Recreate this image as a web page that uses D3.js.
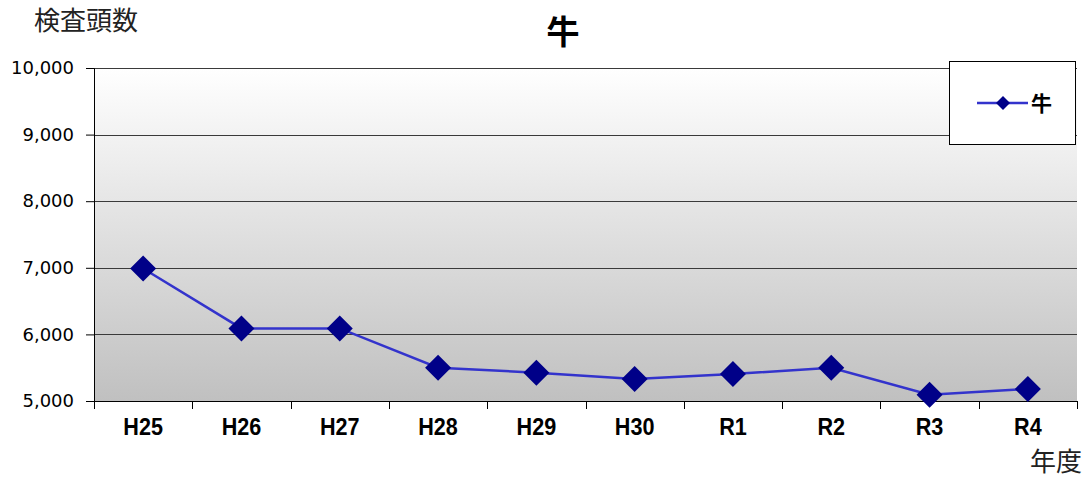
<!DOCTYPE html>
<html><head><meta charset="utf-8">
<script src="https://cdn.jsdelivr.net/npm/d3@7"></script>
<style>body{margin:0;background:#fff}svg{display:block}</style>
</head><body>
<svg id="c" width="1088" height="479"></svg>
<script>
const categories = ["H25","H26","H27","H28","H29","H30","R1","R2","R3","R4"];
const values = [6990,6090,6090,5500,5425,5330,5405,5500,5095,5180];
const yTicks = [5000,6000,7000,8000,9000,10000];
const seriesName = "牛";
const title = "牛";
const yTitle = "検査頭数";
const xTitle = "年度";

const svg = d3.select("#c");
const L=94, R=1077, T=68, B=401;
const x = d3.scaleBand().domain(categories).range([L,R]);
const y = d3.scaleLinear().domain([5000,10000]).range([B,T]);

const defs = svg.append("defs");
const g = defs.append("linearGradient").attr("id","bg").attr("x1",0).attr("y1",0).attr("x2",0).attr("y2",1);
g.append("stop").attr("offset","0%").attr("stop-color","#ffffff");
g.append("stop").attr("offset","100%").attr("stop-color","#c0c0c0");
svg.append("rect").attr("x",L).attr("y",T).attr("width",R-L).attr("height",B-T).attr("fill","url(#bg)");

// gridlines
svg.append("g").selectAll("line").data(yTicks.filter(d=>d>5000)).join("line")
  .attr("x1",L).attr("x2",R).attr("y1",d=>Math.round(y(d))+0.5).attr("y2",d=>Math.round(y(d))+0.5)
  .attr("stroke","#3a3a3a").attr("stroke-width",1);

// y axis
const ya = svg.append("g").attr("transform",`translate(${L},0)`)
  .call(d3.axisLeft(y).tickValues(yTicks).tickFormat(d3.format(",")).tickSize(8).tickPadding(12));
ya.select(".domain").attr("stroke","#000");
ya.selectAll(".tick line").attr("stroke","#000");
ya.selectAll("text").attr("font-family","DejaVu Sans, sans-serif").attr("font-size","18px").attr("fill","#000");

// x axis
const xa = svg.append("g").attr("transform",`translate(0,${B})`)
  .call(d3.axisBottom(x).tickSize(0).tickPadding(0));
xa.select(".domain").attr("stroke","#000");
xa.selectAll("text").attr("font-family","Liberation Sans, Arial, sans-serif").attr("font-weight","bold")
  .attr("font-size","24px").attr("fill","#000").attr("dy",null).attr("y",0)
  .attr("transform","translate(0,34) scale(0.9,1)");
// tick marks at category boundaries
const bounds = categories.map(c=>x(c)).concat([R]);
svg.append("g").selectAll("line").data(bounds).join("line")
  .attr("x1",d=>Math.round(d)+0.5).attr("x2",d=>Math.round(d)+0.5).attr("y1",B).attr("y2",B+8)
  .attr("stroke","#000");

// line
const cx = d=>x(d)+x.bandwidth()/2;
svg.append("path").datum(values.map((v,i)=>[cx(categories[i]),y(v)]))
  .attr("d",d3.line()).attr("fill","none").attr("stroke","#3333cc").attr("stroke-width",2.5);
const sym = d3.symbol().type(d3.symbolSquare).size(13*13*2);
svg.append("g").selectAll("path").data(values).join("path")
  .attr("d",sym).attr("fill","#000088")
  .attr("transform",(v,i)=>`translate(${cx(categories[i])},${y(v)}) rotate(45)`);

// legend
svg.append("rect").attr("x",949.5).attr("y",61.5).attr("width",126).attr("height",83)
  .attr("fill","#fff").attr("stroke","#000");
svg.append("line").attr("x1",977).attr("x2",1028).attr("y1",103).attr("y2",103).attr("stroke","#3333cc").attr("stroke-width",2.5);
svg.append("path").attr("d",d3.symbol().type(d3.symbolSquare).size(7*7*2)).attr("fill","#000088")
  .attr("transform","translate(1003,103) rotate(45)");
svg.append("text").attr("x",1031).attr("y",111).text(seriesName)
  .attr("font-family","Noto Sans CJK JP, sans-serif").attr("font-weight","bold").attr("font-size","21px");

// titles
svg.append("text").attr("x",563).attr("y",44).attr("text-anchor","middle").text(title)
  .attr("font-family","Noto Sans CJK JP, sans-serif").attr("font-weight","bold").attr("font-size","33px");
svg.append("text").attr("x",34).attr("y",30).text(yTitle)
  .attr("font-family","Noto Sans CJK JP, sans-serif").attr("font-size","26px").attr("fill","#222");
svg.append("text").attr("x",1082).attr("y",471).attr("text-anchor","end").text(xTitle)
  .attr("font-family","Noto Sans CJK JP, sans-serif").attr("font-size","26px").attr("fill","#222");
</script>
</body></html>
